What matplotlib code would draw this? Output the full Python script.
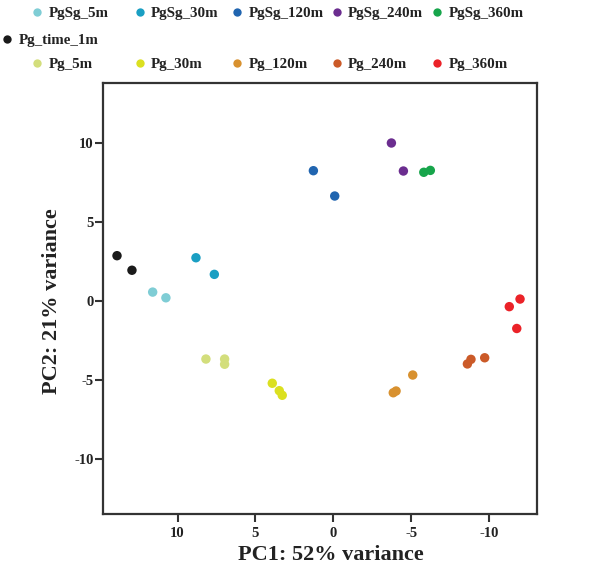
import matplotlib
matplotlib.use("Agg")
import matplotlib.pyplot as plt
from matplotlib.lines import Line2D

plt.rcParams['font.family'] = ['Liberation Serif', 'DejaVu Serif']
plt.rcParams['font.weight'] = 'bold'

groups = ["PgSg_5m", "PgSg_30m", "PgSg_120m", "PgSg_240m", "PgSg_360m",
          "Pg_time_1m",
          "Pg_5m", "Pg_30m", "Pg_120m", "Pg_240m", "Pg_360m"]
colors = ["#7fcdd5", "#1a9fc3", "#2165b0", "#6b2d8f", "#17a54b",
          "#1a1a1a",
          "#d3de7c", "#dbe020", "#d8912f", "#cb5a28", "#eb2228"]

pc1 = {
    "PgSg_5m": [11.60, 10.75],
    "PgSg_30m": [8.82, 7.64],
    "PgSg_120m": [1.28, -0.09],
    "PgSg_240m": [-3.73, -4.50],
    "PgSg_360m": [-5.81, -6.23],
    "Pg_time_1m": [13.89, 12.93],
    "Pg_5m": [8.18, 6.98, 6.98],
    "Pg_30m": [3.92, 3.47, 3.28],
    "Pg_120m": [-3.85, -4.03, -5.10],
    "Pg_240m": [-8.61, -8.84, -9.72],
    "Pg_360m": [-11.30, -11.99, -11.78],
}
pc2 = {
    "PgSg_5m": [0.57, 0.21],
    "PgSg_30m": [2.74, 1.69],
    "PgSg_120m": [8.24, 6.64],
    "PgSg_240m": [9.99, 8.22],
    "PgSg_360m": [8.14, 8.26],
    "Pg_time_1m": [2.87, 1.95],
    "Pg_5m": [-3.66, -3.66, -3.99],
    "Pg_30m": [-5.19, -5.66, -5.95],
    "Pg_120m": [-5.79, -5.68, -4.67],
    "Pg_240m": [-3.97, -3.68, -3.58],
    "Pg_360m": [-0.35, 0.13, -1.73],
}
xticks = [10, 5, 0, -5, -10]
yticks = [10, 5, 0, -5, -10]

W, H = 606, 566
fig = plt.figure(figsize=(W / 100, H / 100), dpi=100)
ax_l, ax_r, ax_t, ax_b = 103.3, 536.7, 82.7, 514.3
ax = fig.add_axes([ax_l / W, 1 - ax_b / H, (ax_r - ax_l) / W, (ax_b - ax_t) / H])

for g, c in zip(groups, colors):
    ax.scatter(pc1[g], pc2[g], s=46, color=c, edgecolors='none', zorder=3)

ax.set_xlim(14.77, -13.06)
ax.set_ylim(-13.47, 13.8)
ax.set_xticks(xticks)
ax.set_yticks(yticks)
ax.set_xticklabels([str(t) for t in xticks], fontsize=10.5, fontweight='bold', color='#222222')
ax.set_yticklabels([str(t) for t in yticks], fontsize=10.5, fontweight='bold', color='#222222')
ax.tick_params(axis='x', direction='out', length=6, width=1.5, color='#333333', pad=3)
ax.tick_params(axis='y', direction='out', length=6, width=1.5, color='#333333', pad=1)
for sp in ax.spines.values():
    sp.set_linewidth(1.6)
    sp.set_color('#333333')

ax.set_xlabel("PC1: 52% variance", fontsize=16, fontweight='bold', color='#222222')
ax.set_ylabel("PC2: 21% variance", fontsize=16, fontweight='bold', color='#222222')
ax.xaxis.set_label_coords((331 - ax_l) / (ax_r - ax_l), (ax_b - 555) / (ax_b - ax_t))
ax.xaxis.label.set_verticalalignment('center')
ax.yaxis.set_label_coords((52 - ax_l) / (ax_r - ax_l), (ax_b - 301.5) / (ax_b - ax_t))
ax.yaxis.label.set_verticalalignment('center')

# legend: grid of entries
col_x = [37.3, 140, 237.3, 336.7, 437.3]
positions = {}
for i, g in enumerate(groups[:5]):
    positions[g] = (col_x[i], 13.0)
positions["Pg_time_1m"] = (7.3, 40.0)
for i, g in enumerate(groups[6:]):
    positions[g] = (col_x[i], 64.0)

fs_pt = 10.8
fs_px = fs_pt * 100 / 72
for g, c in zip(groups, colors):
    mx, my = positions[g]
    h = Line2D([], [], marker='o', linestyle='none', markersize=6.0,
               markerfacecolor=c, markeredgecolor='none')
    hl = 1.0
    left = mx - hl * fs_px / 2
    leg = fig.legend(handles=[h], labels=[g], loc='center left',
                     bbox_to_anchor=(left / W, 1 - my / H), frameon=False,
                     borderpad=0, borderaxespad=0, handlelength=hl,
                     handletextpad=0.25,
                     prop={'family': 'Liberation Serif', 'weight': 'bold', 'size': fs_pt})
    for t in leg.get_texts():
        t.set_color('#222222')

fig.savefig("out.png", dpi=100)
